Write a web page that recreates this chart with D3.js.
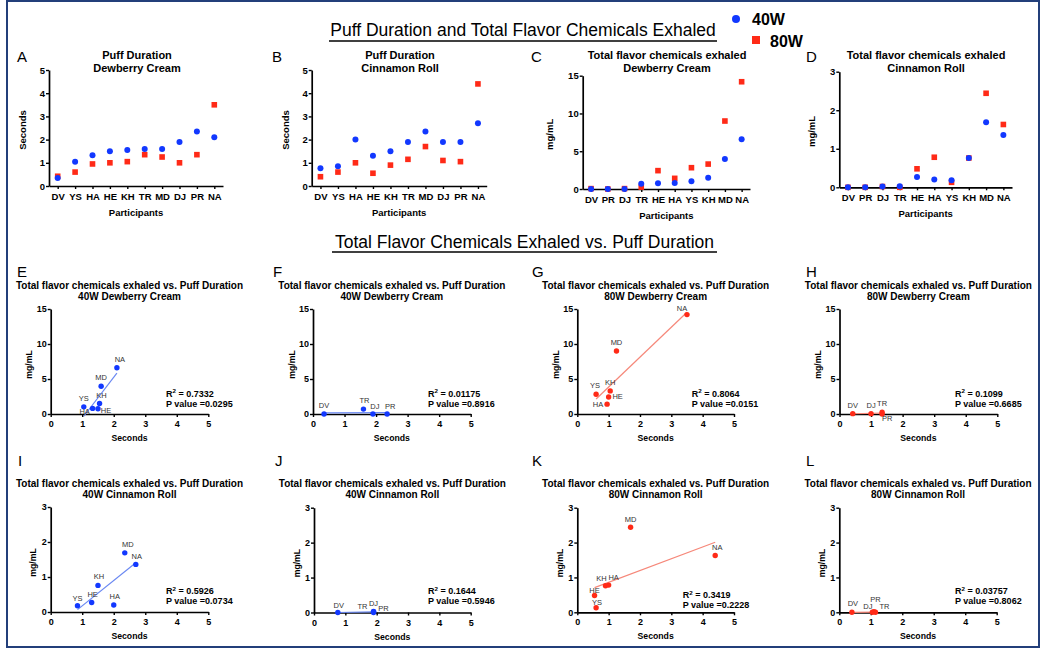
<!DOCTYPE html>
<html>
<head>
<meta charset="utf-8">
<script src="https://cdn.jsdelivr.net/npm/d3@7"></script>
<style>
  body { margin: 0; background: #fff; }
  text { font-family: "Liberation Sans", Arial, sans-serif; }
</style>
</head>
<body>
<div id="viz"></div>
<script>
// participants, in the order of the puff duration panels
const puffCats = ["DV", "YS", "HA", "HE", "KH", "TR", "MD", "DJ", "PR", "NA"]
const dc40Puff = [0.35, 1.05, 1.33, 1.5, 1.55, 1.6, 1.6, 1.9, 2.35, 2.1]
const dc80Puff = [0.42, 0.6, 0.95, 1.0, 1.05, 1.35, 1.25, 1.0, 1.35, 3.5]
const cr40Puff = [0.76, 0.85, 2.0, 1.3, 1.5, 1.9, 2.35, 1.9, 1.9, 2.7]
const cr80Puff = [0.4, 0.6, 1.0, 0.55, 0.9, 1.15, 1.7, 1.1, 1.05, 4.4]

// participants, in the order of the flavor chemical panels
const chemCats = ["DV", "PR", "DJ", "TR", "HE", "HA", "YS", "KH", "MD", "NA"]
const dc40Chem = [0, 0, 0, 0.7, 0.75, 0.8, 1.02, 1.5, 3.97, 6.6]
const dc80Chem = [0.05, 0, 0.05, 0.25, 2.43, 1.41, 2.82, 3.3, 9.0, 14.2]
const cr40Chem = [0, 0, 0.02, 0.03, 0.27, 0.2, 0.18, 0.76, 1.69, 1.36]
const cr80Chem = [0, 0, 0.02, 0, 0.48, 0.78, 0.13, 0.76, 2.44, 1.63]

const highGroup = ["YS", "HA", "HE", "KH", "MD", "NA"]
const lowGroup = ["DV", "TR", "DJ", "PR"]

const r2Labels = ["0.7332", "0.01175", "0.8064", "0.1099", "0.5926", "0.1644", "0.3419", "0.03757"]
const pLabels = ["0.0295", "0.8916", "0.0151", "0.6685", "0.0734", "0.5946", "0.2228", "0.8062"]

const blue = "#1238ff"
const red = "#ff2a17"
const blueLine = "#6a88f2"
const redLine = "#f6887a"

const svg = d3.select("#viz").append("svg").attr("width", 1050).attr("height", 656)

// frame
svg.append("rect")
  .attr("x", 7).attr("y", 1).attr("width", 1032).attr("height", 646)
  .attr("fill", "none").attr("stroke", "#233f7a").attr("stroke-width", 2)

// section headings
let heading = (txt, cx, y, lineY, x1, x2) => {
  svg.append("text").attr("x", cx).attr("y", y).attr("text-anchor", "middle")
    .attr("font-size", 17.5).text(txt)
  svg.append("line").attr("x1", x1).attr("x2", x2).attr("y1", lineY).attr("y2", lineY)
    .attr("stroke", "#000").attr("stroke-width", 1.5)
}
heading("Puff Duration and Total Flavor Chemicals Exhaled", 523, 36, 41, 329, 717)
heading("Total Flavor Chemicals Exhaled vs. Puff Duration", 524.5, 248, 252, 332, 717)

// legend
svg.append("circle").attr("cx", 736).attr("cy", 19).attr("r", 4).attr("fill", blue)
svg.append("text").attr("x", 752).attr("y", 25).attr("font-size", 16).attr("font-weight", "bold").text("40W")
svg.append("rect").attr("x", 752).attr("y", 36).attr("width", 8).attr("height", 8).attr("fill", red)
svg.append("text").attr("x", 770).attr("y", 47).attr("font-size", 16).attr("font-weight", "bold").text("80W")

let styleAxis = (g, fs) => {
  g.select(".domain").attr("stroke-width", 1.7)
  g.selectAll(".tick line").attr("stroke-width", 1.4)
  g.selectAll("text").attr("font-size", fs).attr("font-weight", "bold").attr("fill", "#000")
}

let letter = (txt, x, y) => {
  svg.append("text").attr("x", x).attr("y", y).attr("font-size", 15).text(txt)
}

let rotLabel = (txt, x, y, fs) => {
  svg.append("text").attr("transform", `translate(${x},${y}) rotate(-90)`)
    .attr("text-anchor", "middle").attr("dy", "0.35em")
    .attr("font-size", fs).attr("font-weight", "bold").text(txt)
}

// ---------- top row: values per participant ----------
const topPanels = [
  {L: "A", t1: "Puff Duration", t2: "Dewberry Cream", cats: puffCats, v40: dc40Puff, v80: dc80Puff,
   yLab: "Seconds", yMax: 5, ticks: [0, 1, 2, 3, 4, 5], x0: 49, x1: 223, yTop: 70, yBot: 186, tc: 137, lx: 17, ylx: 23},
  {L: "B", t1: "Puff Duration", t2: "Cinnamon Roll", cats: puffCats, v40: cr40Puff, v80: cr80Puff,
   yLab: "Seconds", yMax: 5, ticks: [0, 1, 2, 3, 4, 5], x0: 311.7, x1: 486.7, yTop: 70, yBot: 186, tc: 400, lx: 272, ylx: 285.5},
  {L: "C", t1: "Total flavor chemicals exhaled", t2: "Dewberry Cream", cats: chemCats, v40: dc40Chem, v80: dc80Chem,
   yLab: "mg/mL", yMax: 15, ticks: [0, 5, 10, 15], x0: 582.7, x1: 750, yTop: 75.7, yBot: 189, tc: 667, lx: 531, ylx: 550},
  {L: "D", t1: "Total flavor chemicals exhaled", t2: "Cinnamon Roll", cats: chemCats, v40: cr40Chem, v80: cr80Chem,
   yLab: "mg/mL", yMax: 3, ticks: [0, 1, 2, 3], x0: 839.3, x1: 1012, yTop: 71.7, yBot: 187.3, tc: 926, lx: 806, ylx: 811.7}
]

topPanels.forEach(p => {
  const x = d3.scalePoint().domain(p.cats).range([p.x0, p.x1]).padding(0.5)
  const y = d3.scaleLinear().domain([0, p.yMax]).range([p.yBot, p.yTop])

  letter(p.L, p.lx, 62)
  svg.append("text").attr("x", p.tc).attr("y", 59).attr("text-anchor", "middle")
    .attr("font-size", 11).attr("font-weight", "bold").text(p.t1)
  svg.append("text").attr("x", p.tc).attr("y", 72).attr("text-anchor", "middle")
    .attr("font-size", 11).attr("font-weight", "bold").text(p.t2)

  svg.append("g").attr("transform", `translate(0,${p.yBot})`)
    .call(d3.axisBottom(x).tickSize(3).tickSizeOuter(0))
    .call(g => styleAxis(g, 9.5))
    .call(g => g.selectAll("text").attr("y", 14).attr("dy", 0))
  svg.append("g").attr("transform", `translate(${p.x0},0)`)
    .call(d3.axisLeft(y).tickValues(p.ticks).tickFormat(d3.format("d")).tickSize(3).tickSizeOuter(0))
    .call(g => styleAxis(g, 9.5))
    .call(g => g.selectAll("text").attr("x", -4))

  svg.append("text").attr("x", (p.x0 + p.x1) / 2).attr("y", p.yBot + 30).attr("text-anchor", "middle")
    .attr("font-size", 9.5).attr("font-weight", "bold").text("Participants")
  rotLabel(p.yLab, p.ylx, (p.yTop + p.yBot) / 2 + 2, 9.5)

  const s = 5.6
  svg.append("g").selectAll("rect").data(p.v80).join("rect")
    .attr("x", (d, i) => x(p.cats[i]) - s / 2).attr("y", d => y(d) - s / 2)
    .attr("width", s).attr("height", s).attr("fill", red)
  svg.append("g").selectAll("circle").data(p.v40).join("circle")
    .attr("cx", (d, i) => x(p.cats[i])).attr("cy", d => y(d)).attr("r", 3).attr("fill", blue)
})

// ---------- scatter panels ----------
// label offsets [dx, dy] relative to the point, text-anchor middle
const labelPos = {
  E: {NA: [3, -6], MD: [0, -6], KH: [2, -6], YS: [0, -6], HA: [-8, 6], HE: [8, 4]},
  F: {DV: [0, -6], TR: [1, -6], DJ: [2, -5], PR: [3, -5]},
  G: {NA: [-5, -4], MD: [0, -6], KH: [0, -6], YS: [-1, -6], HE: [9, 2], HA: [-9, 3]},
  H: {DV: [0, -6], DJ: [0, -6], TR: [0, -6], PR: [5, 7]},
  I: {YS: [0, -5], HE: [1, -6], KH: [1, -6], HA: [1, -6], MD: [3, -6], NA: [1, -5]},
  J: {DV: [1, -5], TR: [-11, -2], DJ: [0, -6], PR: [10, -2]},
  K: {MD: [0, -5], NA: [2, -5], KH: [-4, -5], HA: [5, -5], HE: [0, -3], YS: [1, -3]},
  L: {DV: [1, -6], DJ: [-6, -3], PR: [3, -10], TR: [9, -3]}
}

const scatterPanels = [
  {L: "E", t2: "40W Dewberry Cream", puff: dc40Puff, chem: dc40Chem, names: highGroup, c: blue, lc: blueLine,
   x0: 50.7, x1: 208.3, yBot: 414, yTop: 309, yMax: 15, ticks: [0, 5, 10, 15], sx: 166, lx: 17, k: 0},
  {L: "F", t2: "40W Dewberry Cream", puff: dc40Puff, chem: dc40Chem, names: lowGroup, c: blue, lc: blueLine,
   x0: 313, x1: 470.7, yBot: 414, yTop: 309, yMax: 15, ticks: [0, 5, 10, 15], sx: 428, lx: 273, k: 1},
  {L: "G", t2: "80W Dewberry Cream", puff: dc80Puff, chem: dc80Chem, names: highGroup, c: red, lc: redLine,
   x0: 577.3, x1: 734, yBot: 414, yTop: 309, yMax: 15, ticks: [0, 5, 10, 15], sx: 691.7, lx: 532, k: 2},
  {L: "H", t2: "80W Dewberry Cream", puff: dc80Puff, chem: dc80Chem, names: lowGroup, c: red, lc: redLine,
   x0: 839.5, x1: 997.3, yBot: 414, yTop: 309, yMax: 15, ticks: [0, 5, 10, 15], sx: 955, lx: 806, k: 3},
  {L: "I", t2: "40W Cinnamon Roll", puff: cr40Puff, chem: cr40Chem, names: highGroup, c: blue, lc: blueLine,
   x0: 50.7, x1: 208.3, yBot: 612, yTop: 507, yMax: 3, ticks: [0, 1, 2, 3], sx: 166, lx: 18, k: 4},
  {L: "J", t2: "40W Cinnamon Roll", puff: cr40Puff, chem: cr40Chem, names: lowGroup, c: blue, lc: blueLine,
   x0: 314, x1: 470.7, yBot: 612.5, yTop: 507.7, yMax: 3, ticks: [0, 1, 2, 3], sx: 428, lx: 275, k: 5},
  {L: "K", t2: "80W Cinnamon Roll", puff: cr80Puff, chem: cr80Chem, names: highGroup, c: red, lc: redLine,
   x0: 577.3, x1: 734, yBot: 612.3, yTop: 507.7, yMax: 3, ticks: [0, 1, 2, 3], sx: 682.7, lx: 532, k: 6},
  {L: "L", t2: "80W Cinnamon Roll", puff: cr80Puff, chem: cr80Chem, names: lowGroup, c: red, lc: redLine,
   x0: 839.3, x1: 996.7, yBot: 612.3, yTop: 507.7, yMax: 3, ticks: [0, 1, 2, 3], sx: 955, lx: 806, k: 7}
]

scatterPanels.forEach(p => {
  const x = d3.scaleLinear().domain([0, 5]).range([p.x0, p.x1])
  const y = d3.scaleLinear().domain([0, p.yMax]).range([p.yBot, p.yTop])
  const big = p.yMax > 5
  const tx = (p.x0 + p.x1) / 2

  const pts = p.names.map(n => ({
    name: n,
    sec: p.puff[puffCats.indexOf(n)],
    mg: p.chem[chemCats.indexOf(n)]
  }))

  letter(p.L, p.lx, big ? 277 : 466)
  const t1y = big ? 289 : 486.5
  svg.append("text").attr("x", tx).attr("y", t1y).attr("text-anchor", "middle")
    .attr("font-size", 10).attr("font-weight", "bold").text("Total flavor chemicals exhaled vs. Puff Duration")
  svg.append("text").attr("x", tx).attr("y", t1y + 11.3).attr("text-anchor", "middle")
    .attr("font-size", 10).attr("font-weight", "bold").text(p.t2)

  svg.append("g").attr("transform", `translate(0,${p.yBot})`)
    .call(d3.axisBottom(x).tickValues([0, 1, 2, 3, 4, 5]).tickFormat(d3.format("d")).tickSize(3).tickSizeOuter(0))
    .call(g => styleAxis(g, 9))
    .call(g => g.selectAll("text").attr("y", 13).attr("dy", 0))
  svg.append("g").attr("transform", `translate(${p.x0},0)`)
    .call(d3.axisLeft(y).tickValues(p.ticks).tickFormat(d3.format("d")).tickSize(3).tickSizeOuter(0))
    .call(g => styleAxis(g, 9))
    .call(g => g.selectAll("text").attr("x", -4))

  svg.append("text").attr("x", (p.x0 + p.x1) / 2).attr("y", p.yBot + 27).attr("text-anchor", "middle")
    .attr("font-size", 8.7).attr("font-weight", "bold").text("Seconds")
  rotLabel("mg/mL", p.x0 - (big ? 21.5 : 17.5), (p.yTop + p.yBot) / 2 + 3, 8.7)

  // least squares fit over the plotted points
  const mx = d3.mean(pts, d => d.sec), my = d3.mean(pts, d => d.mg)
  const sxy = d3.sum(pts, d => (d.sec - mx) * (d.mg - my))
  const sxx = d3.sum(pts, d => (d.sec - mx) ** 2)
  const slope = sxy / sxx, icpt = my - slope * mx
  const [xa, xb] = d3.extent(pts, d => d.sec)
  svg.append("line")
    .attr("x1", x(xa)).attr("y1", y(icpt + slope * xa))
    .attr("x2", x(xb)).attr("y2", y(icpt + slope * xb))
    .attr("stroke", p.lc).attr("stroke-width", 1.2)

  svg.append("g").selectAll("circle").data(pts).join("circle")
    .attr("cx", d => x(d.sec)).attr("cy", d => y(d.mg)).attr("r", 2.7).attr("fill", p.c)

  svg.append("g").selectAll("text").data(pts).join("text")
    .attr("x", d => x(d.sec) + labelPos[p.L][d.name][0])
    .attr("y", d => y(d.mg) + labelPos[p.L][d.name][1])
    .attr("text-anchor", "middle").attr("font-size", 7.5).attr("fill", "#333")
    .text(d => d.name)

  const sy = big ? 396.5 : (p.L === "K" ? 598 : 594)
  const st = svg.append("text").attr("x", p.sx).attr("y", sy)
    .attr("font-size", 9).attr("font-weight", "bold")
  st.append("tspan").text("R")
  st.append("tspan").attr("font-size", 6.2).attr("dy", -3.5).text("2")
  st.append("tspan").attr("dy", 3.5).text(" = " + r2Labels[p.k])
  svg.append("text").attr("x", p.sx).attr("y", sy + 10)
    .attr("font-size", 9).attr("font-weight", "bold").text("P value =" + pLabels[p.k])
})
</script>
</body>
</html>
